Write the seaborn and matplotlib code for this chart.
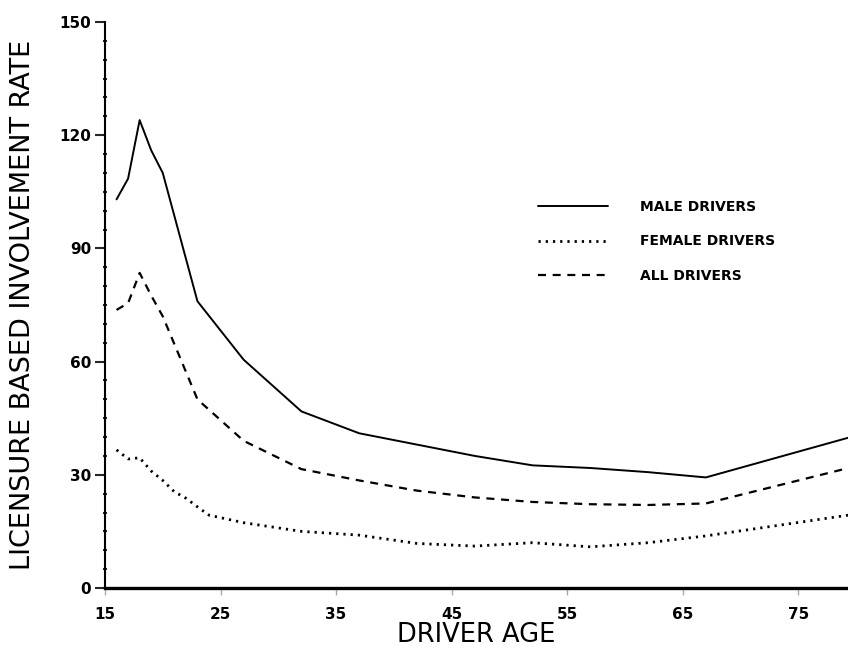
import matplotlib
matplotlib.use("Agg")
import matplotlib.pyplot as plt
import pandas as pd
import seaborn as sns
from matplotlib.ticker import MultipleLocator

# ---- data ----
male_age = [16, 17, 18, 19, 20, 23, 27, 32, 37, 42, 47, 52, 57, 62, 67, 80]
male_rate = [103, 108.5, 124, 116, 110, 76, 60.5, 46.8, 41, 38, 35, 32.5, 31.8, 30.7, 29.3, 40.4]

female_age = [16, 17, 18, 19, 20, 21, 22, 23, 24, 27, 32, 37, 42, 47, 52, 57, 62, 67, 80]
female_rate = [36.6, 34.2, 34.5, 31, 28.5, 25.5, 23.8, 21.5, 19.3, 17.3, 15, 14, 11.8, 11.1, 12, 10.9, 12, 13.8, 19.6]

all_age = [16, 17, 18, 19, 20, 23, 27, 32, 37, 42, 47, 52, 57, 62, 67, 80]
all_rate = [73.7, 75.5, 83.5, 77.5, 72, 50, 39, 31.5, 28.5, 25.8, 24, 22.8, 22.2, 22, 22.4, 32.3]

x_ticks = [15, 25, 35, 45, 55, 65, 75]
y_ticks = [0, 30, 60, 90, 120, 150]

series = [
    ("MALE DRIVERS", male_age, male_rate, "-", 1.4),
    ("FEMALE DRIVERS", female_age, female_rate, (0, (0.8, 1.8)), 2.0),
    ("ALL DRIVERS", all_age, all_rate, (0, (3.6, 3.0)), 1.6),
]

sns.set_style("white")
plt.rcParams["font.family"] = ["DejaVu Sans"]
plt.rcParams["text.color"] = "black"
plt.rcParams["axes.labelcolor"] = "black"
plt.rcParams["xtick.labelcolor"] = "black"
plt.rcParams["ytick.labelcolor"] = "black"

fig = plt.figure(figsize=(8.48, 6.52), dpi=100)
ax = fig.add_axes([0.1238, 0.0982, 0.8762, 0.868])

for name, ages, rates, ls, lw in series:
    df = pd.DataFrame({"age": ages, "rate": rates})
    sns.lineplot(data=df, x="age", y="rate", color="black", linestyle=ls,
                 linewidth=lw, label=name, ax=ax)

ax.set_xlim(15, 79.3)
ax.set_ylim(0, 150)
ax.set_xticks(x_ticks)
ax.set_yticks(y_ticks)
ax.yaxis.set_minor_locator(MultipleLocator(5))

for side in ["top", "right"]:
    ax.spines[side].set_visible(False)
ax.spines["left"].set_linewidth(1.5)
ax.spines["bottom"].set_linewidth(2.4)
ax.spines["left"].set_color("black")
ax.spines["bottom"].set_color("black")

ax.tick_params(axis="y", which="major", direction="out", length=7, width=1.5,
               pad=3, labelsize=11, left=True)
ax.tick_params(axis="y", which="minor", direction="inout", length=3, width=1.5, left=True)
ax.tick_params(axis="x", which="major", direction="out", length=5, width=1,
               color="#aaaaaa", pad=9, labelsize=11, bottom=True)
for lab in ax.get_xticklabels() + ax.get_yticklabels():
    lab.set_fontweight("bold")

ax.set_xlabel("DRIVER AGE", fontsize=18.5, labelpad=0)
ax.set_ylabel("LICENSURE BASED INVOLVEMENT RATE", fontsize=19.5, labelpad=17)

leg = ax.legend(loc="upper left", bbox_to_anchor=(0.583, 0.685), frameon=False,
                handlelength=5, handletextpad=2.3, labelspacing=1.45,
                borderaxespad=0, borderpad=0,
                prop={"weight": "bold", "size": 10})

fig.savefig("out.png", dpi=100, facecolor="white")
